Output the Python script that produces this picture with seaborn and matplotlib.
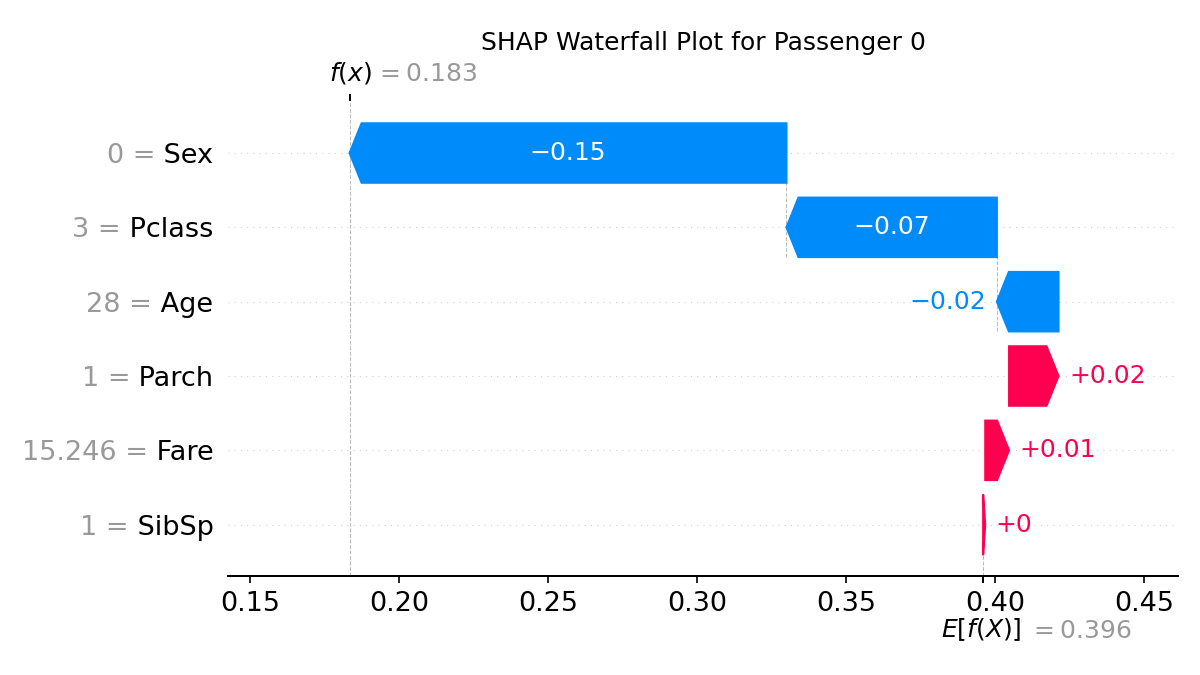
import re
import numpy as np
import matplotlib
matplotlib.use("Agg")
import matplotlib.pyplot as plt
import matplotlib.transforms as mtransforms
import seaborn as sns

# data (top row first)
features = ["Sex", "Pclass", "Age", "Parch", "Fare", "SibSp"]
feature_values = ["0", "3", "28", "1", "15.246", "1"]
shap_values = [-0.1466, -0.0706, -0.0207, 0.0166, 0.0080, 0.0007]
base_value = 0.396
x_ticks = [0.15, 0.20, 0.25, 0.30, 0.35, 0.40, 0.45]
title = "SHAP Waterfall Plot for Passenger 0"

red = "#ff0051"
blue = "#008bfb"

sns.set_style("white", rc={"text.color": "black", "axes.edgecolor": "black",
                           "xtick.color": "black", "ytick.color": "black"})
plt.rcParams['font.family'] = ['DejaVu Sans']


def format_value(v, fmt):
    s = fmt % v
    s = re.sub(r"\.?0+$", "", s)
    if s[0] == "-":
        s = "\u2212" + s[1:]
    return s


n = len(features)
rows = np.arange(n)[::-1]
vals = np.array(shap_values)
fx = base_value + vals.sum()

fig, ax = plt.subplots(figsize=(8, 4.5))
fig.subplots_adjust(left=0.19, right=0.9817, bottom=0.1467, top=0.8504)
xlim = (0.1426, 0.4614)
ax.set_xlim(xlim)
ax.set_ylim(-0.69, 5.70)

renderer = fig.canvas.get_renderer()
ax_width_in = ax.get_position().width * fig.get_size_inches()[0]
xscale = (xlim[1] - xlim[0]) / ax_width_in
hl = 0.08 * xscale
bar_width = 0.8

# rows grid
for y in rows:
    ax.axhline(y, color="#cccccc", lw=0.5, dashes=(1, 5), zorder=-1)

loc = fx
for i, v in enumerate(vals):
    y = rows[i]
    start = loc - v
    label = format_value(v, "%+0.02f")
    if v >= 0:
        arr = ax.arrow(start, y, max(v - hl, 1e-6), 0, head_length=min(v, hl),
                       color=red, width=bar_width, head_width=bar_width)
        txt = ax.text(start + 0.5 * v, y, label,
                      ha="center", va="center", color="white", fontsize=12)
        if txt.get_window_extent(renderer).width > arr.get_window_extent(renderer).width:
            txt.remove()
            ax.text(start + v + (5 / 72) * xscale, y, label,
                    ha="left", va="center", color=red, fontsize=12)
    else:
        arr = ax.arrow(start, y, -max(-v - hl, 1e-6), 0, head_length=min(-v, hl),
                       color=blue, width=bar_width, head_width=bar_width)
        txt = ax.text(start + 0.5 * v, y, label,
                      ha="center", va="center", color="white", fontsize=12)
        if txt.get_window_extent(renderer).width > arr.get_window_extent(renderer).width:
            txt.remove()
            ax.text(start + v - (5 / 72) * xscale, y, label,
                    ha="right", va="center", color=blue, fontsize=12)
    # connector lines for the first bars
    if i + 4 < n:
        ax.plot([start, start], [y - 1 - 0.4, y + 0.4], color="#bbbbbb",
                linestyle="--", linewidth=0.5, zorder=-1)
    loc = start

ax.axvline(base_value, 0, 1 / n, color="#bbbbbb", linestyle="--", linewidth=0.5, zorder=-1)
ax.axvline(fx, 0, 1, color="#bbbbbb", linestyle="--", linewidth=0.5, zorder=-1)

# y labels: feature name in black, value part in gray just left of it
ax.set_yticks(rows)
ax.set_yticklabels([f" {f}" for f in features], fontsize=13)
for lab, fv, y in zip(ax.yaxis.get_majorticklabels(), feature_values, rows):
    ax.annotate(f"{fv} =", xy=(0, y), xycoords=(lab, "data"), ha="right",
                va="center_baseline", color="#999999", fontsize=13,
                annotation_clip=False)

ax.set_xticks(x_ticks)
ax.set_xticklabels([f"{t:.2f}" for t in x_ticks])
ax.xaxis.set_ticks_position("bottom")
ax.yaxis.set_ticks_position("none")
ax.tick_params(labelsize=13)
sns.despine(ax=ax, left=True)

# E[f(X)] tick
ax2 = ax.twiny()
ax2.set_xlim(xlim)
ax2.xaxis.set_ticks_position("bottom")
ax2.set_xticks([base_value, base_value + 1e-8])
ax2.set_xticklabels(["$E[f(X)]$", "$ = " + format_value(base_value, "%0.03f") + "$"],
                    fontsize=12, ha="left")
ax2.tick_params(axis="x", pad=16)
for s in ["right", "top", "left"]:
    ax2.spines[s].set_visible(False)
labs = ax2.xaxis.get_majorticklabels()
labs[0].set_transform(labs[0].get_transform()
                      + mtransforms.ScaledTranslation(-20 / 72, 0, fig.dpi_scale_trans))
labs[1].set_transform(labs[1].get_transform()
                      + mtransforms.ScaledTranslation(22 / 72, -1 / 72, fig.dpi_scale_trans))
labs[1].set_color("#999999")

# f(x) tick
ax3 = ax2.twiny()
ax3.set_xlim(xlim)
ax3.xaxis.set_ticks_position("top")
ax3.set_xticks([fx, fx + 1e-8])
ax3.set_xticklabels(["$f(x)$", "$ = " + format_value(fx, "%0.03f") + "$"],
                    fontsize=12, ha="left")
for s in ["right", "top", "left"]:
    ax3.spines[s].set_visible(False)
labs = ax3.xaxis.get_majorticklabels()
labs[0].set_transform(labs[0].get_transform()
                      + mtransforms.ScaledTranslation(-10 / 72, 0, fig.dpi_scale_trans))
labs[1].set_transform(labs[1].get_transform()
                      + mtransforms.ScaledTranslation(12 / 72, 0, fig.dpi_scale_trans))
labs[1].set_color("#999999")

ax.set_title(title, fontsize=12, y=1.108, pad=0)

fig.savefig("out.png", dpi=150)
